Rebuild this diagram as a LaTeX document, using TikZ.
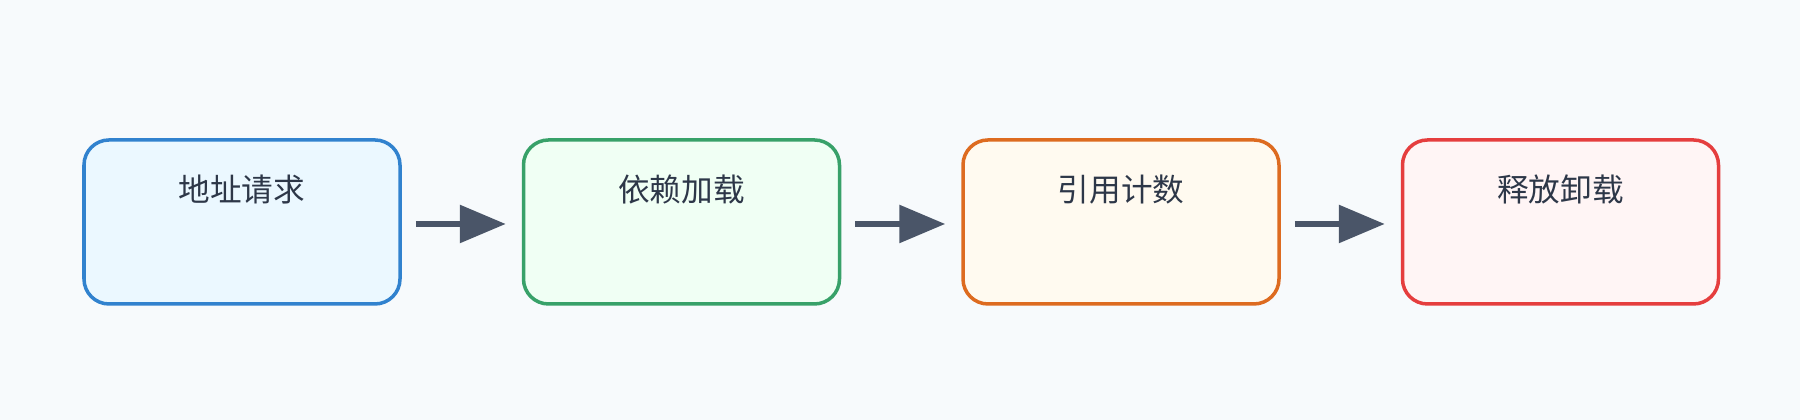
\documentclass[tikz,border=0pt]{standalone}
\usepackage{fontspec}
\setmainfont{Noto Sans CJK SC}
\usepackage{tikz}
\usetikzlibrary{positioning}
\usetikzlibrary{arrows.meta}
\usepackage{xcolor}

\definecolor{bgcol}{HTML}{F7FAFC}
\definecolor{txtcol}{HTML}{2D3748}
\definecolor{arrcol}{HTML}{4A5568}
\definecolor{bluedraw}{HTML}{3182CE}
\definecolor{bluefill}{HTML}{EBF8FF}
\definecolor{greendraw}{HTML}{38A169}
\definecolor{greenfill}{HTML}{F0FFF4}
\definecolor{orangedraw}{HTML}{DD6B20}
\definecolor{orangefill}{HTML}{FFFAF0}
\definecolor{reddraw}{HTML}{E53E3E}
\definecolor{redfill}{HTML}{FFF5F5}

\tikzset{
  stage/.style={draw, line width=0.035cm, rounded corners=0.25cm,
    minimum width=3.16cm, minimum height=1.64cm, inner sep=0pt},
  stagetext/.style={text=txtcol, inner sep=0pt,
    font=\fontsize{9}{11}\selectfont},
  flow/.style={arrcol, line width=0.06cm,
    -{Triangle[length=0.46cm, width=0.37cm]}}
}

\begin{document}
\begin{tikzpicture}

\fill[bgcol] (0,0) rectangle (18,4.2);
\useasboundingbox (0,0) rectangle (18,4.2);

% stages
\node[stage, draw=bluedraw, fill=bluefill] (req) at (2.42,1.98) {};
\node[stage, draw=greendraw, fill=greenfill, right=1.2cm of req] (dep) {};
\node[stage, draw=orangedraw, fill=orangefill, right=1.2cm of dep] (cnt) {};
\node[stage, draw=reddraw, fill=redfill, right=1.2cm of cnt] (rel) {};

\node[stagetext] (reqtxt) at ([yshift=-0.51cm]req.north) {地址请求};
\node[stagetext] (deptxt) at ([yshift=-0.51cm]dep.north) {依赖加载};
\node[stagetext] (cnttxt) at ([yshift=-0.51cm]cnt.north) {引用计数};
\node[stagetext] (reltxt) at ([yshift=-0.51cm]rel.north) {释放卸载};

% arrows
\draw[flow] ([xshift=0.14cm,yshift=-0.02cm]req.east) -- ([xshift=-0.16cm,yshift=-0.02cm]dep.west);
\draw[flow] ([xshift=0.14cm,yshift=-0.02cm]dep.east) -- ([xshift=-0.16cm,yshift=-0.02cm]cnt.west);
\draw[flow] ([xshift=0.14cm,yshift=-0.02cm]cnt.east) -- ([xshift=-0.16cm,yshift=-0.02cm]rel.west);

\end{tikzpicture}
\end{document}
